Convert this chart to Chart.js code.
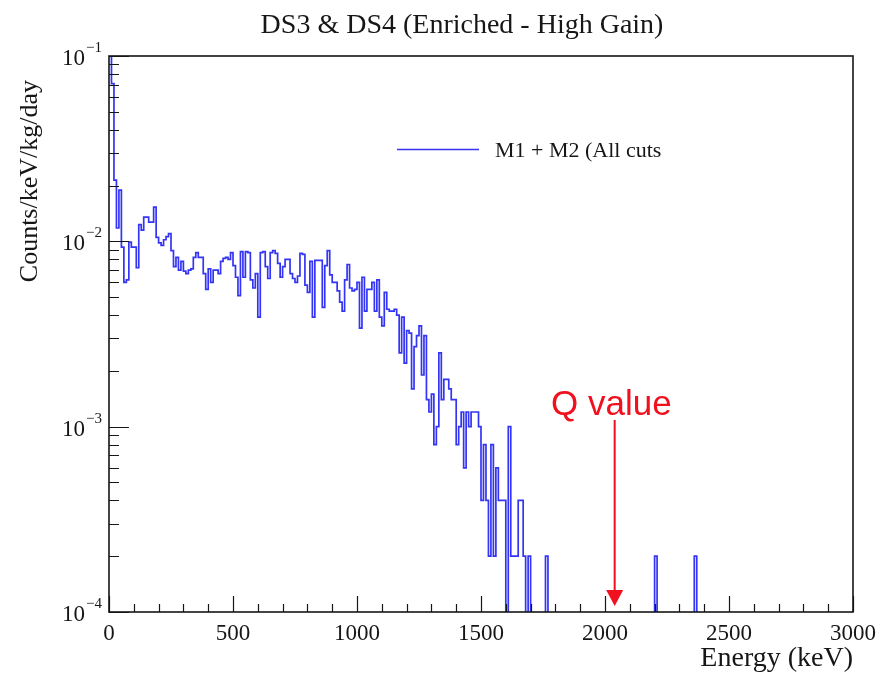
<!DOCTYPE html>
<html>
<head>
<meta charset="utf-8">
<title>DS3 &amp; DS4 (Enriched - High Gain)</title>
<script src="https://cdn.jsdelivr.net/npm/chart.js@4.4.1/dist/chart.umd.min.js"></script>
<style>
  html, body { margin: 0; padding: 0; background: #ffffff; }
  canvas { display: block; }
</style>
</head>
<body>
<canvas id="spectrum" width="877" height="676"></canvas>
<script>
// ------------------------------
// SPECTRUM DATA (counts/keV/kg/day, 10 keV bins)
// ------------------------------
const binWidth = 10; // keV

const rate0to600 = [
  0.105, 0.071, 0.0214, 0.0118, 0.0189, 0.0093, 0.0060, 0.0062, 0.0099, 0.0093,
  0.0093, 0.0072, 0.0123, 0.0115, 0.0135, 0.0135, 0.0127, 0.0127, 0.0153, 0.0105,
  0.0098, 0.0095, 0.0102, 0.0106, 0.0110, 0.0089, 0.0073, 0.0082, 0.0070, 0.0078,
  0.0069, 0.0067, 0.0070, 0.0071, 0.0082, 0.0087, 0.0082, 0.0082, 0.0067, 0.0055,
  0.0071, 0.0060, 0.0070, 0.0070, 0.0067, 0.0078, 0.0081, 0.0082, 0.0080, 0.0087,
  0.0074, 0.0064, 0.0051, 0.0088, 0.0064, 0.0088, 0.0087, 0.0062, 0.0056, 0.0067
];

const rate600to1200 = [
  0.0039, 0.0087, 0.0088, 0.0073, 0.0063, 0.0087, 0.0089, 0.0086, 0.0076, 0.0064,
  0.0073, 0.0080, 0.0080, 0.0067, 0.0063, 0.0060, 0.0065, 0.0086, 0.0085, 0.0058,
  0.0053, 0.0078, 0.0039, 0.0079, 0.0079, 0.0079, 0.0044, 0.0074, 0.0089, 0.0066,
  0.0060, 0.0060, 0.0054, 0.0047, 0.0042, 0.0062, 0.0075, 0.0056, 0.0054, 0.0055,
  0.0060, 0.0034, 0.0064, 0.0042, 0.0055, 0.0055, 0.0060, 0.0042, 0.0062, 0.0039,
  0.0035, 0.0053, 0.0043, 0.0042, 0.0042, 0.0043, 0.0040, 0.0025, 0.0039, 0.0022
];

const rate1200to1800 = [
  0.0033, 0.0032, 0.0016, 0.0027, 0.0031, 0.0035, 0.0019, 0.0031, 0.0014, 0.0012,
  0.0015, 0.0008, 0.0010, 0.0025, 0.0014, 0.0018, 0.0018, 0.0016, 0.0014, 0.0014,
  0.0008, 0.0010, 0.0012, 0.0006, 0.0012, 0.0010, 0.0012, 0.0012, 0.0012, 0.0010,
  0.0004, 0.0008, 0.0004, 0.0002, 0.0008, 0.0002, 0.0006, 0.0004, 0.0004, 0.0004,
  0,      0.0010, 0.0002, 0.0002, 0.0002, 0.0004, 0.0004, 0.0002, 0,      0.0002,
  0,      0,      0,      0,      0,      0,      0.0002, 0,      0,      0
];

const rate1800to2400 = [
  0,      0,      0,      0,      0,      0,      0,      0,      0,      0,
  0,      0,      0,      0,      0,      0,      0,      0,      0,      0,
  0,      0,      0,      0,      0,      0,      0,      0,      0,      0,
  0,      0,      0,      0,      0,      0,      0,      0,      0,      0,
  0.0002, 0,      0,      0,      0,      0,      0,      0,      0,      0,
  0,      0,      0,      0,      0,      0,      0.0002, 0,      0,      0
];

const rate2400to3000 = [
  0, 0, 0, 0, 0, 0, 0, 0, 0, 0,
  0, 0, 0, 0, 0, 0, 0, 0, 0, 0,
  0, 0, 0, 0, 0, 0, 0, 0, 0, 0,
  0, 0, 0, 0, 0, 0, 0, 0, 0, 0,
  0, 0, 0, 0, 0, 0, 0, 0, 0, 0,
  0, 0, 0, 0, 0, 0, 0, 0, 0, 0
];

const qValue = 2039; // keV, 76Ge double beta decay

// axis setup
const xMin = 0, xMax = 3000;
const xMajorStep = 500, xMinorStep = 100;
const yMin = 1e-4, yMax = 1e-1;
const yDecades = [-4, -3, -2, -1];
const emptyBinFloor = 1e-5; // empty bins fall below the axis, like ROOT

const serif = "'Liberation Serif', 'DejaVu Serif', serif";
const sans = "'Liberation Sans', Arial, sans-serif";
const lineBlue = 'rgb(52, 52, 245)';
const qRed = '#f0101e';
const ink = '#161616';

document.addEventListener('DOMContentLoaded', () => {

  // ------------------------------
  // HISTOGRAM POINTS (left bin edges, stepped)
  // ------------------------------
  const rate = [].concat(rate0to600, rate600to1200, rate1200to1800, rate1800to2400, rate2400to3000);
  const points = rate.map((r, i) => ({ x: i * binWidth, y: r > 0 ? r : emptyBinFloor }));
  points.push({ x: rate.length * binWidth, y: points[points.length - 1].y });

  // ------------------------------
  // FRAME, TICKS, TEXT
  // ------------------------------
  const decorations = {
    id: 'decorations',
    afterDraw(chart) {
      const { ctx, chartArea: area, scales: { x, y } } = chart;
      ctx.save();

      // tick marks pointing into the frame
      ctx.strokeStyle = ink;
      ctx.lineWidth = 1.2;
      ctx.beginPath();
      for (let e = xMin; e <= xMax; e += xMinorStep) {
        const px = Math.round(x.getPixelForValue(e)) + 0.5;
        const len = e % xMajorStep === 0 ? 16 : 8;
        ctx.moveTo(px, area.bottom);
        ctx.lineTo(px, area.bottom - len);
      }
      yDecades.forEach(d => {
        for (let m = 1; m <= 9; m++) {
          const v = m * Math.pow(10, d);
          if (v > yMax * 1.0001) break;
          const py = Math.round(y.getPixelForValue(v)) + 0.5;
          ctx.moveTo(area.left, py);
          ctx.lineTo(area.left + (m === 1 ? 20 : 10), py);
        }
      });
      ctx.stroke();

      // frame
      ctx.lineWidth = 1.6;
      ctx.strokeRect(area.left, area.top, area.right - area.left, area.bottom - area.top);

      // y tick labels as 10 with superscript exponent
      ctx.fillStyle = ink;
      ctx.textAlign = 'left';
      ctx.textBaseline = 'alphabetic';
      yDecades.forEach(d => {
        const py = y.getPixelForValue(Math.pow(10, d));
        const exp = '\u2212' + Math.abs(d);
        ctx.font = '23px ' + serif;
        const baseW = ctx.measureText('10').width;
        ctx.font = '15px ' + serif;
        const expW = ctx.measureText(exp).width;
        const left = 101 - baseW - expW;
        ctx.font = '23px ' + serif;
        ctx.fillText('10', left, py + 9);
        ctx.font = '15px ' + serif;
        ctx.fillText(exp, left + baseW + 1, py - 4);
      });

      // chart title
      ctx.font = '28px ' + serif;
      ctx.textAlign = 'center';
      ctx.fillText('DS3 & DS4 (Enriched - High Gain)', 462, 33);

      // axis titles
      ctx.textAlign = 'right';
      ctx.fillText('Energy (keV)', area.right, 666);
      ctx.save();
      ctx.translate(37, 80);
      ctx.rotate(-Math.PI / 2);
      ctx.font = '26px ' + serif;
      ctx.fillText('Counts/keV/kg/day', 0, 0);
      ctx.restore();

      // legend entry
      const ds = chart.data.datasets[0];
      ctx.strokeStyle = ds.borderColor;
      ctx.lineWidth = ds.borderWidth;
      ctx.beginPath();
      ctx.moveTo(397, 149.5);
      ctx.lineTo(479, 149.5);
      ctx.stroke();
      ctx.font = '22px ' + serif;
      ctx.textAlign = 'left';
      ctx.fillText(ds.label, 495, 157);

      // Q value marker
      const qx = x.getPixelForValue(qValue);
      ctx.fillStyle = qRed;
      ctx.strokeStyle = qRed;
      ctx.font = '35px ' + sans;
      ctx.fillText('Q value', 551, 415);
      ctx.lineWidth = 2;
      ctx.beginPath();
      ctx.moveTo(qx, 420);
      ctx.lineTo(qx, 592);
      ctx.stroke();
      ctx.beginPath();
      ctx.moveTo(qx - 8.5, 590);
      ctx.lineTo(qx + 8.5, 590);
      ctx.lineTo(qx, 606);
      ctx.closePath();
      ctx.fill();

      ctx.restore();
    }
  };

  // ------------------------------
  // CHART BUILDING
  // ------------------------------
  Chart.defaults.font.family = serif;
  const ctx = document.getElementById('spectrum').getContext('2d');
  new Chart(ctx, {
    type: 'line',
    data: {
      datasets: [
        {
          label: 'M1 + M2 (All cuts',
          data: points,
          borderColor: lineBlue,
          borderWidth: 1.7,
          stepped: 'before',
          pointRadius: 0,
          fill: false
        }
      ]
    },
    options: {
      responsive: false,
      animation: false,
      layout: { padding: { left: 0, top: 56, right: 24, bottom: 0 } },
      plugins: {
        legend: { display: false },
        title: { display: false },
        tooltip: { enabled: false }
      },
      scales: {
        x: {
          type: 'linear',
          min: xMin,
          max: xMax,
          afterFit: (scale) => {
            scale.height = 64;
            // the last label may hang past the frame, as in ROOT
            scale.paddingLeft = 0;
            scale.paddingRight = 0;
          },
          grid: { display: false, drawTicks: false },
          border: { display: false },
          ticks: {
            stepSize: xMajorStep,
            padding: 8,
            autoSkip: false,
            maxRotation: 0,
            color: ink,
            font: { size: 23 },
            callback: (value) => String(value)
          }
        },
        y: {
          type: 'logarithmic',
          min: yMin,
          max: yMax,
          afterFit: (scale) => { scale.width = 109; },
          grid: { display: false, drawTicks: false },
          border: { display: false },
          ticks: { display: false }
        }
      }
    },
    plugins: [decorations]
  });

});
</script>
</body>
</html>
